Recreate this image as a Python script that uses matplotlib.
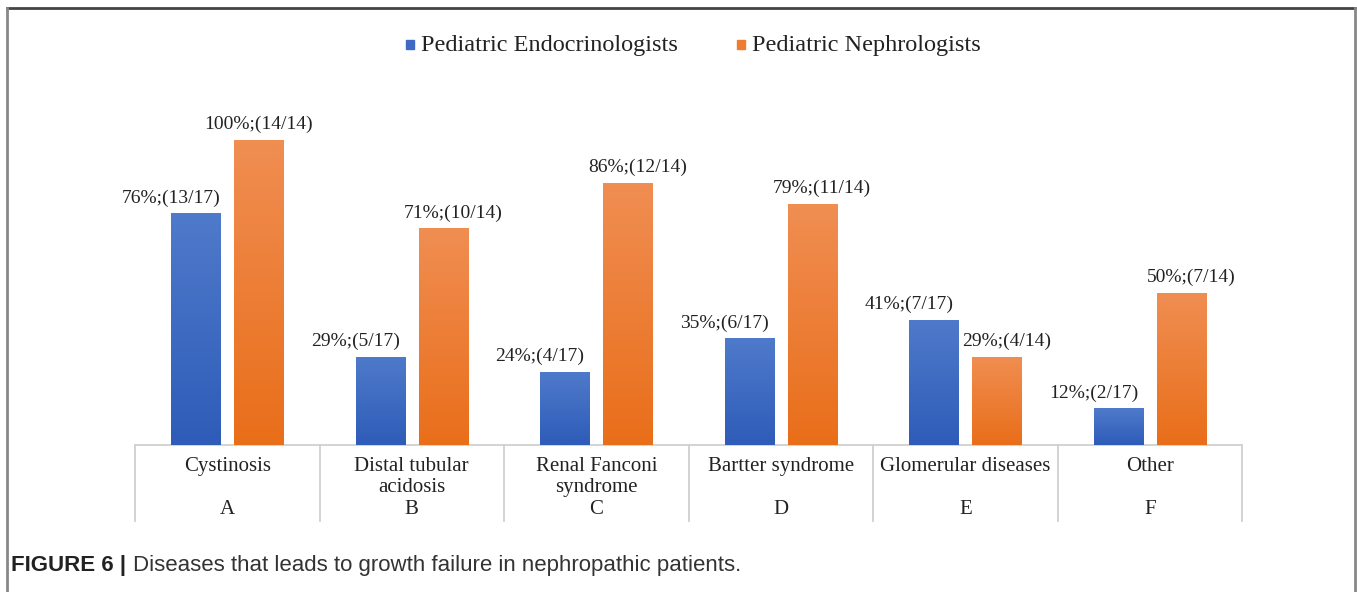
import matplotlib.pyplot as plt
import matplotlib.transforms as mtransforms
import numpy as np

# data
categories = ['Cystinosis', 'Distal tubular\nacidosis', 'Renal Fanconi\nsyndrome',
              'Bartter syndrome', 'Glomerular diseases', 'Other']
letters = ['A', 'B', 'C', 'D', 'E', 'F']
endo_pct = [76, 29, 24, 35, 41, 12]
endo_lbl = ['76%;(13/17)', '29%;(5/17)', '24%;(4/17)', '35%;(6/17)', '41%;(7/17)', '12%;(2/17)']
neph_pct = [100, 71, 86, 79, 29, 50]
neph_lbl = ['100%;(14/14)', '71%;(10/14)', '86%;(12/14)', '79%;(11/14)', '29%;(4/14)', '50%;(7/14)']

W, H = 1357, 592
fig = plt.figure(figsize=(W / 100, H / 100), dpi=100)
serif = 'Liberation Serif'

# axes placed in pixel coords: baseline y=445, table from x=135 to 1242
base_px, top_px = 445, 100
ax = fig.add_axes([135 / W, (H - base_px) / H, (1242 - 135) / W, (base_px - top_px) / H])
ax.set_xlim(0, 6)
ymax = 100 * (base_px - top_px) / (base_px - 140)
ax.set_ylim(0, ymax)
ax.axis('off')

x = np.arange(6) + 0.5
bw = 0.266
off = 0.17


def grad_bar(xc, h, top_col, bot_col):
    b = ax.bar(xc, h, bw, color=bot_col, zorder=2)[0]
    cm = np.linspace(0, 1, 64)[:, None]
    c0 = np.array(plt.matplotlib.colors.to_rgb(top_col))
    c1 = np.array(plt.matplotlib.colors.to_rgb(bot_col))
    img = (c0 * (1 - cm) + c1 * cm)[:, None, :]
    im = ax.imshow(img, extent=[xc - bw / 2, xc + bw / 2, 0, h], aspect='auto',
                   zorder=3, origin='upper')
    im.set_clip_path(b)


for i in range(6):
    grad_bar(x[i] - off, endo_pct[i], '#4F7ACB', '#2E5CB8')
    grad_bar(x[i] + off, neph_pct[i], '#F08E52', '#E96E1A')
    ax.annotate(endo_lbl[i], (x[i] - off, endo_pct[i]), xytext=(-18, 11),
                textcoords='offset points', ha='center', va='center',
                fontsize=14, family=serif, color='#222222')
    ax.annotate(neph_lbl[i], (x[i] + off, neph_pct[i]), xytext=(7 if i else 0, 11),
                textcoords='offset points', ha='center', va='center',
                fontsize=14, family=serif, color='#222222')

ax.set_xlim(0, 6)
ax.set_ylim(0, ymax)

# category table below the axis
tr = mtransforms.blended_transform_factory(ax.transData, fig.transFigure)
ax.plot([0, 6], [(H - base_px) / H] * 2, color='#d0d0d0', lw=1.3, transform=tr, clip_on=False)
for k in range(7):
    ax.plot([k, k], [(H - base_px) / H, (H - 521) / H], color='#d0d0d0', lw=1.3,
            transform=tr, clip_on=False)
for i in range(6):
    ax.text(x[i], (H - 457) / H, categories[i], transform=tr, ha='center', va='top',
            fontsize=15, family=serif, color='#222222', linespacing=1.15)
    ax.text(x[i], (H - 510) / H, letters[i], transform=tr, ha='center', va='center',
            fontsize=15, family=serif, color='#222222')

# legend
leg_y = (H - 45) / H
fig.patches.append(plt.Rectangle((406 / W, leg_y - 4 / H), 8 / W, 9 / H, color='#3E6AC4',
                                 transform=fig.transFigure))
fig.text(421 / W, leg_y, 'Pediatric Endocrinologists', ha='left', va='center',
         fontsize=17.5, family=serif, color='#222222')
fig.patches.append(plt.Rectangle((737 / W, leg_y - 4 / H), 8 / W, 9 / H, color='#EE7D31',
                                 transform=fig.transFigure))
fig.text(752 / W, leg_y, 'Pediatric Nephrologists', ha='left', va='center',
         fontsize=17.5, family=serif, color='#222222')

# frame around the figure panel
fig.add_artist(plt.Line2D([7 / W, 1355 / W], [(H - 8) / H] * 2, color='#444444', lw=2))
fig.add_artist(plt.Line2D([7 / W, 7 / W], [0, (H - 8) / H], color='#888888', lw=2))
fig.add_artist(plt.Line2D([1355 / W, 1355 / W], [0, (H - 8) / H], color='#888888', lw=2))

# caption
t1 = fig.text(11 / W, (H - 565) / H, 'FIGURE 6 |', ha='left', va='center', fontsize=16,
              family='Liberation Sans', weight='bold', color='#222222')
fig.canvas.draw()
bb = t1.get_window_extent()
fig.text((bb.x1 + 7) / W, (H - 565) / H, 'Diseases that leads to growth failure in nephropathic patients.',
         ha='left', va='center', fontsize=16, family='Liberation Sans', color='#333333')

fig.savefig('out.png', dpi=100)
